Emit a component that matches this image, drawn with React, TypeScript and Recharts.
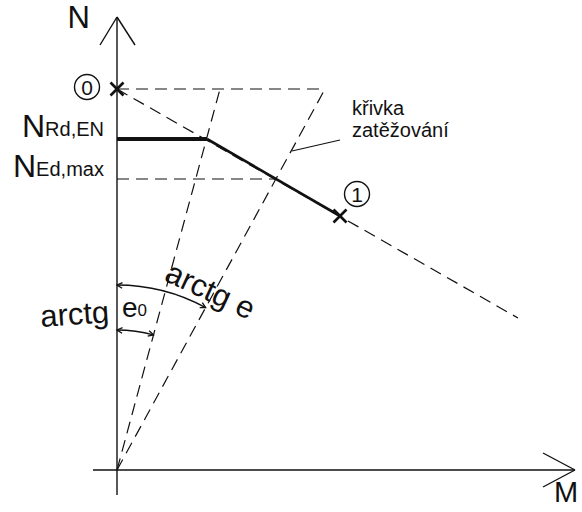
import React from 'react';
import { ComposedChart, XAxis, YAxis, ReferenceLine, ReferenceDot, Scatter } from 'recharts';

// Diagram coordinates: M (horizontal), N (vertical), origin at the axes crossing.
const domainM: [number, number] = [-117, 465];
const domainN: [number, number] = [-42, 470];

const axisSegments = [
  { m1: 0, n1: -25, m2: 0, n2: 453 },
  { m1: -24, n1: 0, m2: 458, n2: 0 },
];
const arrowHeads = [
  [{ m: -17, n: 425 }, { m: 0, n: 453 }, { m: 18, n: 425 }],
  [{ m: 426, n: 17 }, { m: 458, n: 0 }, { m: 426, n: -17 }],
];
const dashedSegments = [
  { m1: 0, n1: 381, m2: 208, n2: 381 },
  { m1: 0, n1: 381, m2: 401, n2: 152 },
  { m1: 0, n1: 0, m2: 103, n2: 381 },
  { m1: 0, n1: 0, m2: 208, n2: 381 },
  { m1: 0, n1: 291, m2: 158, n2: 291 },
];
const resistanceSegment = { m1: 0, n1: 331, m2: 90, n2: 331 };
const interactionSegment = { m1: 90, n1: 331, m2: 223, n2: 254 };
const leaderSegment = { m1: 223, n1: 330, m2: 175, n2: 319 };
const markedPoints = [
  { m: 0, n: 381 },
  { m: 223, n: 254 },
];
const circledLabels = [
  { m: -30, n: 383, text: '0' },
  { m: 240, n: 276, text: '1' },
];
const arcs = [
  { radius: 140, rayM: 103, rayN: 381 },
  { radius: 185, rayM: 208, rayN: 381 },
];
const plainLabels = [
  { m: -27, n: 442, text: 'N', size: 31, anchor: 'end', rotate: 0 },
  { m: 437, n: -32, text: 'M', size: 29, anchor: 'start', rotate: 0 },
  { m: 235, n: 355, text: 'křivka', size: 20, anchor: 'start', rotate: 0 },
  { m: 235, n: 333, text: 'zatěžování', size: 20, anchor: 'start', rotate: 0 },
  { m: -76, n: 143, text: 'arctg', size: 31, anchor: 'start', rotate: -4 },
  { m: 46, n: 190, text: 'arctg e', size: 31, anchor: 'start', rotate: 25 },
];
const subscriptLabels = [
  { m: -95, n: 333, main: 'N', sub: 'Rd,EN', size: 32, subSize: 20 },
  { m: -104, n: 293, main: 'N', sub: 'Ed,max', size: 32, subSize: 20 },
  { m: 5, n: 153, main: 'e', sub: '0', size: 28, subSize: 17 },
];

const FONT = '"Liberation Sans", Arial, sans-serif';
const INK = '#111';
const DASH = '12 7';

const seg = (s: { m1: number; n1: number; m2: number; n2: number }) => [
  { x: s.m1, y: s.n1 },
  { x: s.m2, y: s.n2 },
];

const Cross = (p: any) => {
  const { cx, cy } = p;
  const a = 6.5;
  return (
    <g stroke={INK} strokeWidth={2.7}>
      <line x1={cx - a} y1={cy - a} x2={cx + a} y2={cy + a} />
      <line x1={cx - a} y1={cy + a} x2={cx + a} y2={cy - a} />
    </g>
  );
};

const arrowTip = (x: number, y: number, dx: number, dy: number) => {
  const L = 6;
  const ang = (28 * Math.PI) / 180;
  const r = (c: number, s: number) => ({ x: dx * c - dy * s, y: dx * s + dy * c });
  const w1 = r(Math.cos(ang), Math.sin(ang));
  const w2 = r(Math.cos(ang), -Math.sin(ang));
  return `M${x + w1.x * L},${y + w1.y * L} L${x},${y} L${x + w2.x * L},${y + w2.y * L}`;
};

const makeArcShape = (radius: number, rayM: number, rayN: number) => (p: any) => {
  const { cx, cy } = p;
  const t1 = Math.atan2(rayM, rayN);
  const sx = cx;
  const sy = cy - radius;
  const ex = cx + radius * Math.sin(t1);
  const ey = cy - radius * Math.cos(t1);
  const d = `M${sx},${sy} A${radius},${radius} 0 0 1 ${ex},${ey}`;
  const a1 = arrowTip(sx, sy, 1, 0.08);
  const a2 = arrowTip(ex, ey, -Math.cos(t1), -Math.sin(t1));
  return (
    <g fill="none" stroke={INK} strokeWidth={1.3}>
      <path d={d} />
      <path d={a1} />
      <path d={a2} />
    </g>
  );
};

const makeTextShape = (l: any) => (p: any) => {
  const { cx, cy } = p;
  return (
    <text
      x={cx}
      y={cy}
      fontFamily={FONT}
      fontSize={l.size}
      fill={INK}
      textAnchor={l.anchor}
      transform={l.rotate ? `rotate(${l.rotate} ${cx} ${cy})` : undefined}
    >
      {l.text}
    </text>
  );
};

const makeSubShape = (l: any) => (p: any) => {
  const { cx, cy } = p;
  return (
    <text x={cx} y={cy} fontFamily={FONT} fontSize={l.size} fill={INK}>
      {l.main}
      <tspan fontSize={l.subSize} dy={-1}>{l.sub}</tspan>
    </text>
  );
};

const makeCircledShape = (l: any) => (p: any) => {
  const { cx, cy } = p;
  return (
    <g>
      <circle cx={cx} cy={cy} r={12.5} fill="none" stroke={INK} strokeWidth={1.4} />
      <text x={cx} y={cy + 7.5} fontFamily={FONT} fontSize={21} fill={INK} textAnchor="middle">
        {l.text}
      </text>
    </g>
  );
};

export default function App() {
  return (
    <div style={{ position: 'absolute', left: 0, top: 0, background: '#fff' }}>
      <ComposedChart width={582} height={512} margin={{ top: 0, right: 0, bottom: 0, left: 0 }}>
        <XAxis dataKey="m" type="number" domain={domainM} allowDataOverflow hide />
        <YAxis dataKey="n" type="number" domain={domainN} allowDataOverflow hide />
        {axisSegments.map((s, i) => (
          <ReferenceLine key={'ax' + i} segment={seg(s)} stroke={INK} strokeWidth={1.4} />
        ))}
        {arrowHeads.map((a, i) => (
          <React.Fragment key={'ah' + i}>
            <ReferenceLine segment={[{ x: a[0].m, y: a[0].n }, { x: a[1].m, y: a[1].n }]} stroke={INK} strokeWidth={1.4} />
            <ReferenceLine segment={[{ x: a[1].m, y: a[1].n }, { x: a[2].m, y: a[2].n }]} stroke={INK} strokeWidth={1.4} />
          </React.Fragment>
        ))}
        {dashedSegments.map((s, i) => (
          <ReferenceLine key={'d' + i} segment={seg(s)} stroke={INK} strokeWidth={1.2} strokeDasharray={DASH} />
        ))}
        <ReferenceLine segment={seg(resistanceSegment)} stroke={INK} strokeWidth={4} />
        <ReferenceLine segment={seg(interactionSegment)} stroke={INK} strokeWidth={2.6} />
        <ReferenceLine segment={seg(leaderSegment)} stroke={INK} strokeWidth={1.1} />
        {arcs.map((a, i) => (
          <ReferenceDot key={'arc' + i} x={0} y={0} r={0} shape={makeArcShape(a.radius, a.rayM, a.rayN)} />
        ))}
        {plainLabels.map((l, i) => (
          <ReferenceDot key={'pl' + i} x={l.m} y={l.n} r={0} shape={makeTextShape(l)} />
        ))}
        {subscriptLabels.map((l, i) => (
          <ReferenceDot key={'sl' + i} x={l.m} y={l.n} r={0} shape={makeSubShape(l)} />
        ))}
        {circledLabels.map((l, i) => (
          <ReferenceDot key={'cl' + i} x={l.m} y={l.n} r={0} shape={makeCircledShape(l)} />
        ))}
        <Scatter data={markedPoints} dataKey="n" shape={Cross} isAnimationActive={false} />
      </ComposedChart>
    </div>
  );
}
